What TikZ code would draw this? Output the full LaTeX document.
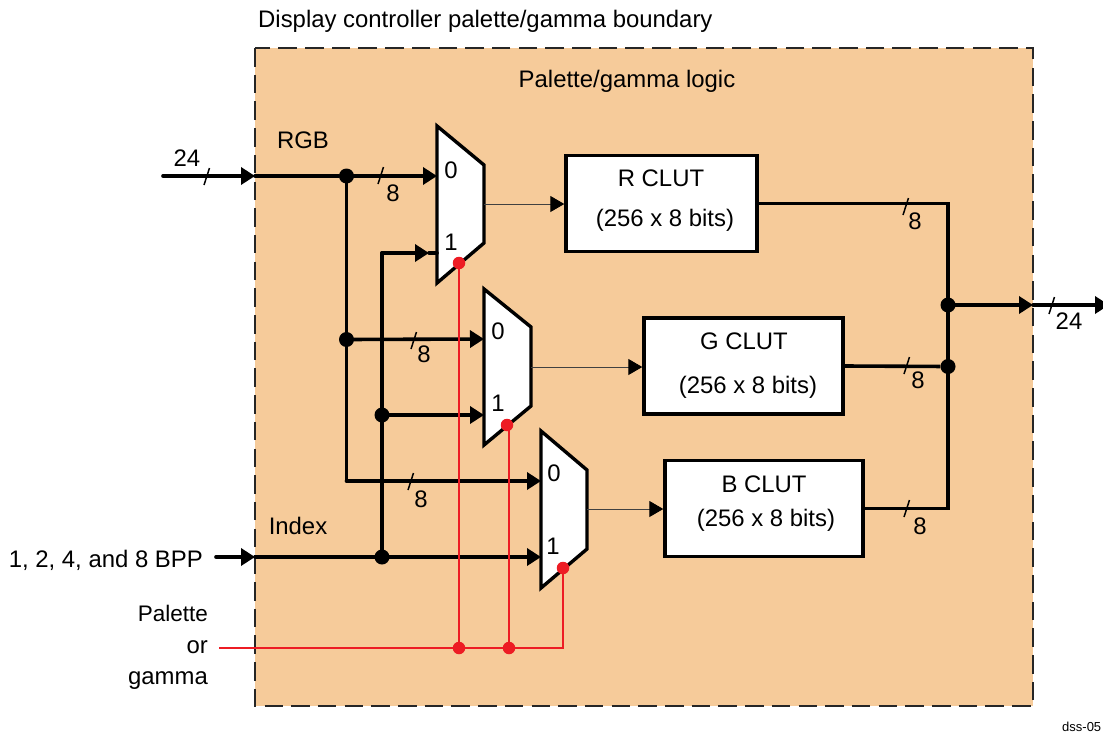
\documentclass[tikz,border=0pt]{standalone}
\usepackage{fontspec}
\setmainfont{Liberation Sans}
\usepackage{xcolor}
\usetikzlibrary{arrows.meta}
\definecolor{logicfill}{HTML}{F6CB9A}
\definecolor{selred}{HTML}{ED1C24}
\tikzset{
    bus/.style={line width=3.6pt, line cap=round},
    tipped/.style={bus, -{Triangle[length=14pt,width=17pt]}},
    thinline/.style={line width=0.9pt, draw=black!75},
    thintip/.style={thinline, -{Triangle[length=14pt,width=16pt,fill=black,color=black]}},
    muxbox/.style={draw, fill=white, line width=3.4pt, line join=miter},
    clutbox/.style={draw, fill=white, line width=3.4pt, minimum width=#1, minimum height=96pt, inner sep=0pt},
    junction/.style={circle, fill=black, minimum size=15pt, inner sep=0pt},
    seldot/.style={circle, fill=selred, minimum size=12.5pt, inner sep=0pt},
    redline/.style={draw=selred, line width=1.15pt},
    slash/.style={line width=1.5pt},
    txt/.style={font=\fontsize{23.9}{28}\selectfont, inner sep=0pt, text height=17pt, text depth=0pt},
}

\begin{document}
\begin{tikzpicture}[x=1pt, y=-1pt]
    \useasboundingbox (0,0) rectangle (1103,734);
    % logic area
    \fill[logicfill] (255,48) rectangle (1033,706);
    \draw[line width=2.8pt, draw=black!85, dash pattern=on 18.5pt off 8.2pt] (255,48) rectangle (1033,706);
    \node[txt, anchor=west] (title) at (258,18.5) {Display controller palette/gamma boundary};
    \node[txt] (logic) at (627,78.5) {Palette/gamma logic};
    % muxes
    \draw[muxbox] (437,126) -- (484,165) -- (484,243) -- (437,283) -- cycle;
    \draw[muxbox] (484,289) -- (531,327) -- (531,406) -- (484,445) -- cycle;
    \draw[muxbox] (541,431) -- (587,470) -- (587,549) -- (541,588) -- cycle;
    % ports of the muxes
    \coordinate (muxa0) at (437,176);
    \coordinate (muxa1) at (437,253);
    \coordinate (muxaout) at (484,204);
    \coordinate (muxb0) at (484,339);
    \coordinate (muxb1) at (484,415);
    \coordinate (muxbout) at (531,367);
    \coordinate (muxc0) at (541,481);
    \coordinate (muxc1) at (541,557);
    \coordinate (muxcout) at (587,509);
    % CLUT boxes
    \node[clutbox=191pt] (rclut) at (661.5,203.5) {};
    \node[clutbox=199pt] (gclut) at (743.5,366) {};
    \node[clutbox=198pt] (bclut) at (764,508.5) {};
    \node[txt] (rname) at (661,178) {R CLUT};
    \node[txt] (rsize) at (665,218) {(256 x 8 bits)};
    \node[txt] (gname) at (744,341) {G CLUT};
    \node[txt] (gsize) at (748,385) {(256 x 8 bits)};
    \node[txt] (bname) at (764,484) {B CLUT};
    \node[txt] (bsize) at (766,518) {(256 x 8 bits)};
    % junctions and free ends
    \coordinate (rgbin) at (163,176);
    \coordinate (rgbedge) at (255,176);
    \coordinate (idxin) at (216,557);
    \coordinate (idxedge) at (255,557);
    \coordinate (turnc) at (346.5,481);
    \coordinate (turna) at (382,253);
    \coordinate (muxatip) at (429,253);
    \coordinate (rturn) at (948,203.5);
    \coordinate (bturn) at (948,508.5);
    \coordinate (outedge) at (1033,305);
    \coordinate (outend) at (1109,305);
    \coordinate (selin) at (219,648);
    \coordinate (selturn) at (563,648);
    \node[junction] (jrgba) at (346.5,176) {};
    \node[junction] (jrgbb) at (346.5,339.5) {};
    \node[junction] (jidxb) at (382,415) {};
    \node[junction] (jidxc) at (382,557) {};
    \node[junction] (jout) at (948,305) {};
    \node[junction] (jg) at (948,366.5) {};
    % RGB and index buses
    \draw[tipped] (rgbin) -- (rgbedge);
    \draw[bus] (rgbedge) -- (jrgba);
    \draw[tipped] (jrgba.center) -- (muxa0);
    \draw[bus, line join=miter] (jrgba.center) -- (turnc);
    \draw[tipped] (turnc) -- (muxc0);
    \draw[tipped] (jrgbb.center) -- (muxb0);
    \draw[tipped] (idxin) -- (idxedge);
    \draw[bus] (idxedge) -- (jidxc);
    \draw[tipped] (jidxc.center) -- (muxc1);
    \draw[bus] (jidxc.center) -- (turna);
    \draw[tipped] (turna) -- (muxatip);
    \draw[bus] (muxatip) -- (muxa1);
    \draw[tipped] (jidxb.center) -- (muxb1);
    % mux outputs
    \draw[thintip] (muxaout) -- (rclut.west |- muxaout);
    \draw[thintip] (muxbout) -- (gclut.west |- muxbout);
    \draw[thintip] (muxcout) -- (bclut.west |- muxcout);
    % right hand side
    \draw[bus, line cap=butt] (rclut.east) -- (rturn) -- (bturn) -- (bclut.east);
    \draw[bus, line cap=butt] (gclut.east) -- (jg);
    \draw[tipped] (jout.center) -- (outedge);
    \draw[tipped] (outedge) -- (outend);
    % select lines
    \node[seldot] (sela) at (459,263) {};
    \node[seldot] (selb) at (507,425) {};
    \node[seldot] (selc) at (563,568) {};
    \node[seldot] (taba) at (459,648) {};
    \node[seldot] (tabb) at (509,648) {};
    \draw[redline] (selin) -- (taba) -- (tabb) -- (selturn) -- (selc);
    \draw[redline] (sela) -- (taba);
    \draw[redline] (tabb.center) -- (tabb |- selb);
    % width marks
    \foreach \x/\y in {204/185, 378/184, 411/349, 408/490, 903/215, 904/374, 904/517, 1049/314}
        \draw[slash] (\x,\y) -- ++(5.5,-17);
    % labels
    \node[txt] (wrgb) at (187,158) {24};
    \node[txt] (wa) at (393,193) {8};
    \node[txt] (wb) at (424,354) {8};
    \node[txt] (wc) at (421,499) {8};
    \node[txt] (wr) at (915,221) {8};
    \node[txt] (wg) at (918,380) {8};
    \node[txt] (wbl) at (920,526) {8};
    \node[txt] (wout) at (1069,321) {24};
    \node[txt] (rgblabel) at (303,140) {RGB};
    \node[txt] (idxlabel) at (298,525.5) {Index};
    \node[txt, anchor=east] (bpp) at (203,558.5) {1, 2, 4, and 8 BPP};
    \node[txt, anchor=east, font=\fontsize{22.5}{27}\selectfont] (palette) at (208,612.5) {Palette};
    \node[txt, anchor=east] (orlabel) at (208,644.5) {or};
    \node[txt, anchor=east] (gamma) at (208,676) {gamma};
    \node[txt] (a0) at (451,170) {0};
    \node[txt] (a1) at (451,242) {1};
    \node[txt] (b0) at (498,331) {0};
    \node[txt] (b1) at (498,403) {1};
    \node[txt] (c0) at (554,473) {0};
    \node[txt] (c1) at (553,546) {1};
    \node[font=\fontsize{13}{15}\selectfont, anchor=west, inner sep=0pt] (dss) at (1062,727) {dss-05};
\end{tikzpicture}
\end{document}
